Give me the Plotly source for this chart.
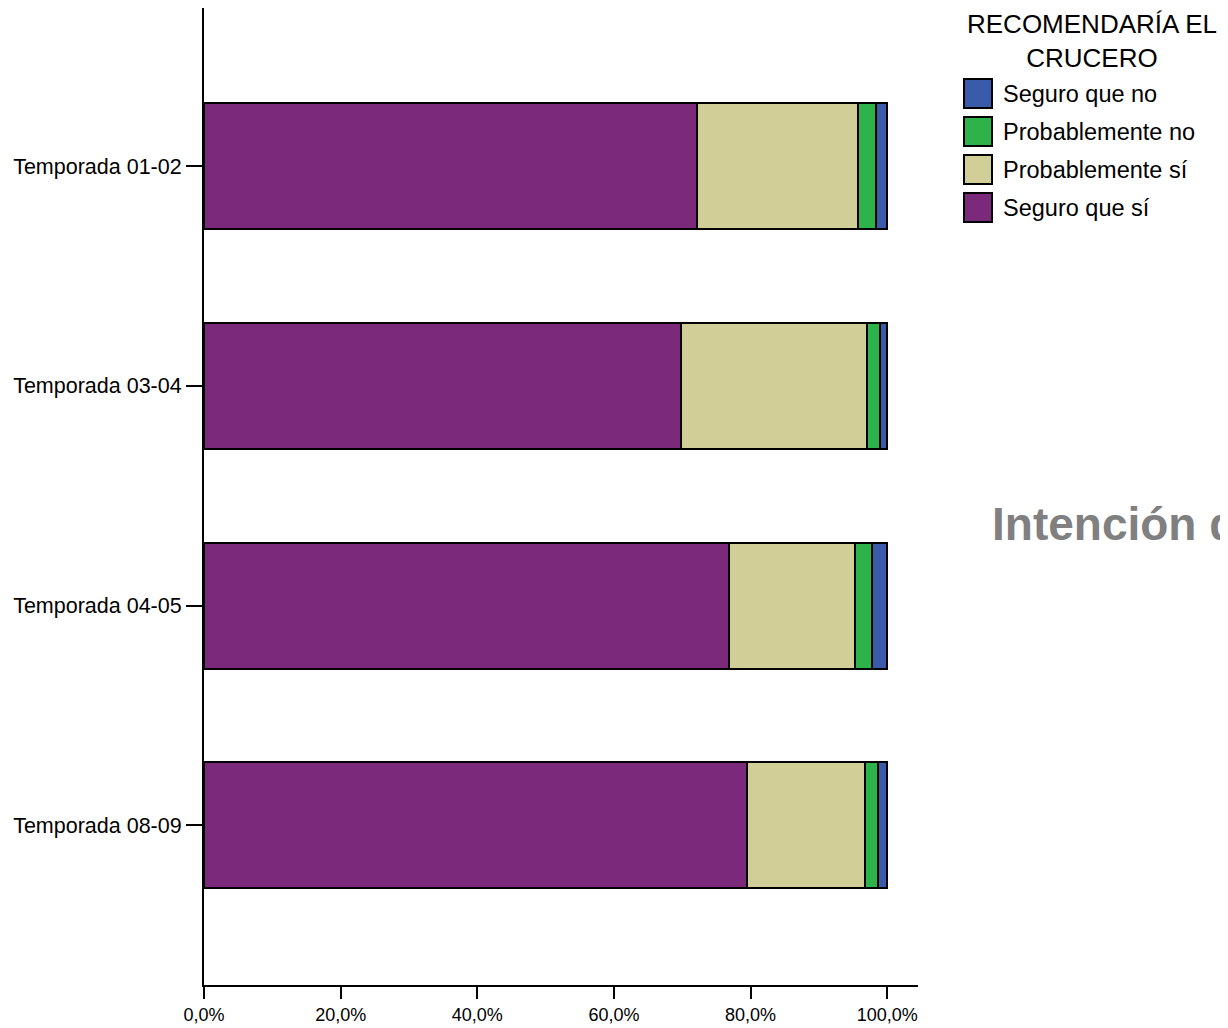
import plotly.graph_objects as go

categories = ["Temporada 01-02", "Temporada 03-04", "Temporada 04-05", "Temporada 08-09"]
series_names = ["Seguro que sí", "Probablemente sí", "Probablemente no", "Seguro que no"]
seguro_si = [72.1, 69.8, 76.8, 79.4]
prob_si = [23.6, 27.3, 18.5, 17.3]
prob_no = [2.7, 1.9, 2.4, 1.9]
seguro_no = [1.6, 1.0, 2.3, 1.4]
colors = ["#7B2A7B", "#D2CE98", "#2DB34A", "#3A5BAA"]
tick_vals = [0, 20, 40, 60, 80, 100]
tick_text = ["0,0%", "20,0%", "40,0%", "60,0%", "80,0%", "100,0%"]
legend_title = "RECOMENDARÍA EL<br>CRUCERO"
chart_title = "Intención de recomendar el crucero"

OFF = 8  # default page body margin
W, H = 1220, 1020
L, R, T, B = 196, 310, 0, 43
PW, PH = W - L - R, H - T - B

def px(x):
    return (x - OFF - L) / PW

def py(y):
    return (H - B - (y - OFF)) / PH

FONT = "Liberation Sans, Arial, sans-serif"

fig = go.Figure()
values = [seguro_si, prob_si, prob_no, seguro_no]
for name, vals, col in zip(series_names, values, colors):
    fig.add_trace(go.Bar(
        y=categories, x=vals, name=name, orientation="h",
        marker=dict(color=col, line=dict(color="black", width=2)),
        width=0.573, showlegend=False,
    ))

fig.update_layout(
    barmode="stack",
    width=W, height=H,
    margin=dict(l=L, r=R, t=T, b=B, pad=0),
    plot_bgcolor="white", paper_bgcolor="white",
    font=dict(family=FONT, color="black"),
    xaxis=dict(range=[0, 104.5], tickvals=tick_vals, ticktext=tick_text,
               showgrid=False, zeroline=False, showline=True, linecolor="black",
               linewidth=2, ticks="outside", ticklen=12, tickwidth=2, tickcolor="black",
               tickfont=dict(size=18, family=FONT)),
    yaxis=dict(type="category", range=[3.727, -0.72], showgrid=False, zeroline=False,
               showline=True, linecolor="black", linewidth=2, ticks="outside",
               ticklen=16, tickwidth=2, tickcolor="black",
               tickfont=dict(size=21.5, family=FONT)),
)

shapes = []
annotations = []
annotations.append(dict(x=px(1092), y=py(41), xref="paper", yref="paper", text=legend_title,
                        showarrow=False, xanchor="center", yanchor="middle", align="center",
                        font=dict(size=26, family=FONT, color="black")))
legend_items = list(zip(series_names, colors))[::-1]
for i, (name, col) in enumerate(legend_items):
    top = 79 + i * 38
    shapes.append(dict(type="rect", xref="paper", yref="paper",
                       x0=px(964), x1=px(992), y0=py(top), y1=py(top + 29),
                       fillcolor=col, line=dict(color="black", width=2)))
    annotations.append(dict(x=px(1001), y=py(top + 15), xref="paper", yref="paper", text=name,
                            showarrow=False, xanchor="left", yanchor="middle",
                            font=dict(size=23.5, family=FONT, color="black")))

annotations.append(dict(x=px(990), y=py(524), xref="paper", yref="paper", text="<b>" + chart_title + "</b>",
                        showarrow=False, xanchor="left", yanchor="middle",
                        font=dict(size=46, family=FONT, color="#808080")))

fig.update_layout(shapes=shapes, annotations=annotations)
fig.write_html("out.html")
